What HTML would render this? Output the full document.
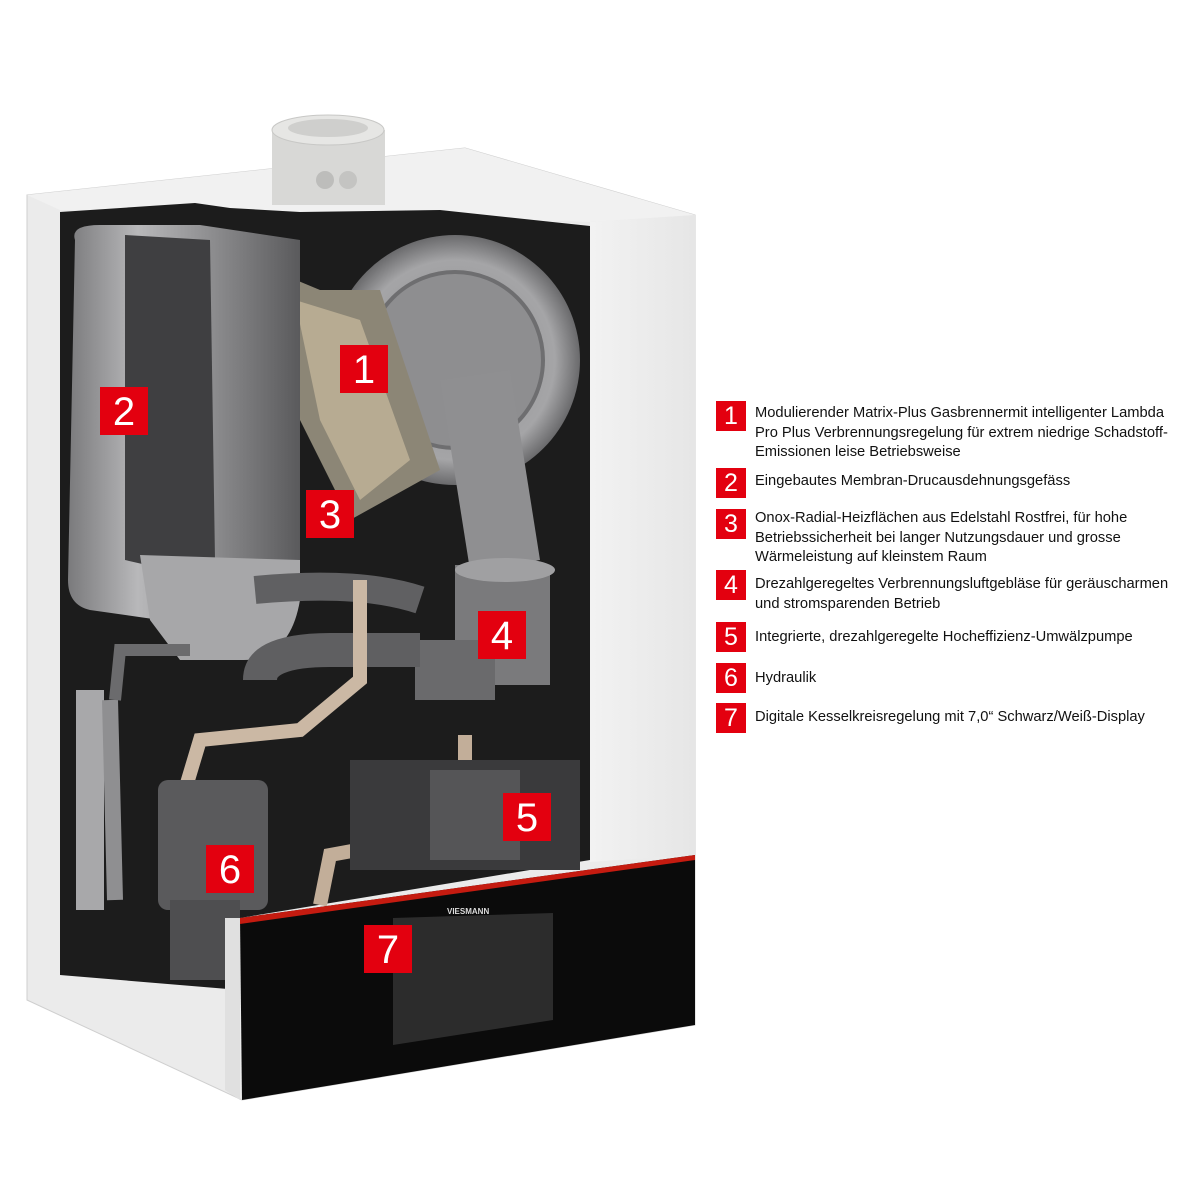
<!DOCTYPE html>
<html><head><meta charset="utf-8"><style>
body{margin:0;background:#fff;width:1200px;height:1200px;overflow:hidden;position:relative;font-family:"Liberation Sans",sans-serif}
.n{position:absolute;background:#e3000f;color:#fff;text-align:center;font-family:"Liberation Sans",sans-serif}
.big{width:48px;height:48px;line-height:50px;font-size:40px}
.sm{left:716px;width:30px;height:30px;line-height:31px;font-size:25px}
.t{position:absolute;left:755px;font-size:14.7px;line-height:19.5px;color:#111;white-space:nowrap}
</style></head><body>
<svg width="1200" height="1200" style="position:absolute;left:0;top:0">
<defs>
<linearGradient id="tank" x1="0" x2="1"><stop offset="0" stop-color="#7a7a7c"/><stop offset=".3" stop-color="#b8b8ba"/><stop offset="1" stop-color="#5a5a5c"/></linearGradient>
<radialGradient id="burn" cx=".5" cy=".5" r=".5"><stop offset="0" stop-color="#8a8a8c"/><stop offset=".8" stop-color="#a5a5a7"/><stop offset="1" stop-color="#6a6a6c"/></radialGradient>
<linearGradient id="side" x1="0" x2="1"><stop offset="0" stop-color="#f2f2f2"/><stop offset="1" stop-color="#e6e6e6"/></linearGradient>
</defs>
<polygon points="27,195 465,148 695,215 695,1025 242,1100 27,1000" fill="#ebebeb" stroke="#cfcfcf"/>
<polygon points="27,195 465,148 695,215 590,222 300,212 60,210" fill="#f1f1f1"/>
<polygon points="590,222 695,215 695,855 590,862" fill="url(#side)"/>
<rect x="272" y="130" width="113" height="75" fill="#d8d8d6"/>
<ellipse cx="328" cy="130" rx="56" ry="15" fill="#e6e6e4" stroke="#c8c8c6"/>
<ellipse cx="328" cy="128" rx="40" ry="9" fill="#cfcfcd"/>
<ellipse cx="325" cy="180" rx="9" ry="9" fill="#bdbdbb"/><ellipse cx="348" cy="180" rx="9" ry="9" fill="#c4c4c2"/>
<polygon points="200,208 272,205 385,205 440,210 590,225 300,214" fill="#f1f1f1"/>
<polygon points="60,212 195,203 230,208 300,212 440,210 590,226 590,860 240,918 240,990 60,975" fill="#1c1c1c"/>
<circle cx="455" cy="360" r="125" fill="url(#burn)"/>
<circle cx="455" cy="360" r="88" fill="#8e8e90" stroke="#6e6e70" stroke-width="4"/>
<polygon points="260,265 320,290 380,290 440,470 350,520 300,420" fill="#8c8676"/>
<polygon points="295,300 360,320 410,460 360,500 320,420" fill="#b7ab92"/>
<polygon points="440,380 510,370 540,560 470,570" fill="#8f8f91"/>
<rect x="455" y="565" width="95" height="120" fill="#7a7a7c"/>
<ellipse cx="505" cy="570" rx="50" ry="12" fill="#a0a0a2"/>
<rect x="415" y="640" width="80" height="60" fill="#6a6a6c"/>
<path d="M75,240 Q70,225 100,225 L200,225 L300,240 L300,600 L260,660 L200,660 L160,620 L90,610 Q68,605 68,580 Z" fill="url(#tank)"/>
<polygon points="125,235 210,240 215,560 300,560 300,600 125,560" fill="#3f3f41"/>
<path d="M140,555 L300,560 L300,600 Q290,660 240,660 L180,660 L150,620 Z" fill="#a7a7a9"/>
<path d="M255,590 Q360,580 420,600" stroke="#606062" stroke-width="28" fill="none"/>
<path d="M260,680 Q260,650 330,650 L420,650" stroke="#5f5f61" stroke-width="34" fill="none"/>
<path d="M90,690 L90,910" stroke="#a8a8aa" stroke-width="28" fill="none"/>
<path d="M110,700 L115,900" stroke="#8f8f91" stroke-width="16" fill="none"/>
<path d="M190,650 L120,650 L115,700" stroke="#6b6b6d" stroke-width="12" fill="none"/>
<path d="M360,580 L360,680 L300,730 L200,740 L185,790" stroke="#cbb8a4" stroke-width="14" fill="none"/>
<path d="M465,735 L465,825 L440,835 L330,855 L320,905" stroke="#c2ae99" stroke-width="14" fill="none"/>
<rect x="158" y="780" width="110" height="130" rx="10" fill="#5a5a5c"/>
<rect x="170" y="900" width="70" height="80" fill="#4e4e50"/>
<rect x="350" y="760" width="230" height="110" fill="#3a3a3c"/>
<rect x="430" y="770" width="90" height="90" fill="#555557"/>
<polygon points="240,918 695,855 695,1025 242,1100" fill="#0b0b0b"/>
<polygon points="240,918 695,855 695,860 240,924" fill="#c51b10"/>
<polygon points="393,918 553,913 553,1020 393,1045" fill="#2c2c2c"/>
<text x="447" y="914" font-family="Liberation Sans" font-size="8" font-weight="bold" fill="#ddd">VIESMANN</text>
<polygon points="225,918 240,918 240,1100 225,1090" fill="#e0e0e0"/>
</svg>
<div class="n big" style="left:340px;top:345px">1</div>
<div class="n big" style="left:100px;top:387px">2</div>
<div class="n big" style="left:306px;top:490px">3</div>
<div class="n big" style="left:478px;top:611px">4</div>
<div class="n big" style="left:503px;top:793px">5</div>
<div class="n big" style="left:206px;top:845px">6</div>
<div class="n big" style="left:364px;top:925px">7</div>
<div class="n sm" style="top:401px">1</div>
<div class="n sm" style="top:468px">2</div>
<div class="n sm" style="top:509px">3</div>
<div class="n sm" style="top:570px">4</div>
<div class="n sm" style="top:622px">5</div>
<div class="n sm" style="top:663px">6</div>
<div class="n sm" style="top:703px">7</div>
<div class="t" style="top:404px">Modulierender Matrix-Plus Gasbrennermit intelligenter Lambda<br>Pro Plus Verbrennungsregelung für extrem niedrige Schadstoff-<br>Emissionen leise Betriebsweise</div>
<div class="t" style="top:472px">Eingebautes Membran-Drucausdehnungsgefäss</div>
<div class="t" style="top:509px">Onox-Radial-Heizflächen aus Edelstahl Rostfrei, für hohe<br>Betriebssicherheit bei langer Nutzungsdauer und grosse<br>Wärmeleistung auf kleinstem Raum</div>
<div class="t" style="top:575px">Drezahlgeregeltes Verbrennungsluftgebläse für geräuscharmen<br>und stromsparenden Betrieb</div>
<div class="t" style="top:628px">Integrierte, drezahlgeregelte Hocheffizienz-Umwälzpumpe</div>
<div class="t" style="top:669px">Hydraulik</div>
<div class="t" style="top:708px">Digitale Kesselkreisregelung mit 7,0“ Schwarz/Weiß-Display</div>
</body></html>
